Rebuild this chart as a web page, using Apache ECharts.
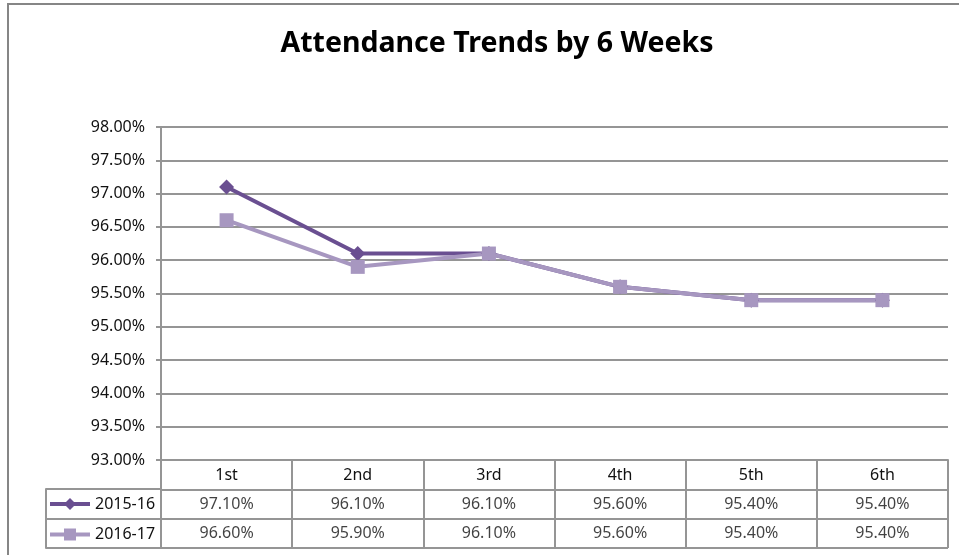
<!DOCTYPE html>
<html>
<head>
<meta charset="utf-8">
<script src="https://cdn.jsdelivr.net/npm/echarts@6/dist/echarts.min.js"></script>
<style>
  html, body { margin: 0; padding: 0; background: #fff; }
  #chart { width: 959px; height: 555px; }
</style>
</head>
<body>
<div id="chart"></div>
<script>
// data
var weeks = ["1st", "2nd", "3rd", "4th", "5th", "6th"];
var seriesNames = ["2015-16", "2016-17"];
var att2015 = [97.1, 96.1, 96.1, 95.6, 95.4, 95.4];
var att2016 = [96.6, 95.9, 96.1, 95.6, 95.4, 95.4];
var yMin = 93, yMax = 98, yStep = 0.5;
var tableRows = ["head", "2015-16", "2016-17"];

var gray = "#959595";
var lw = 2;
var textColor = "#111";
var font = "Noto Sans";
var dark = "#6a4f91";
var light = "#a797c0";

function pct(v) { return v.toFixed(2) + "%"; }

// cells of the data table: [week, row, value]
var cells = [];
weeks.forEach(function (w, i) {
  cells.push([w, seriesNames[0], att2015[i]]);
  cells.push([w, seriesNames[1], att2016[i]]);
});

var chart = echarts.init(document.getElementById("chart"));
chart.setOption({
  animation: false,
  backgroundColor: "#fff",
  title: {
    text: "Attendance Trends by 6 Weeks",
    left: 492,
    top: 24,
    textAlign: "center",
    textStyle: { fontFamily: font, fontSize: 28.5, fontWeight: "bold", color: "#000" }
  },
  graphic: [{
    type: "rect",
    shape: { x: 8, y: 4, width: 1000, height: 600 },
    style: { fill: "none", stroke: "#868686", lineWidth: 2 },
    silent: true
  }],
  legend: {
    data: seriesNames,
    orient: "vertical",
    left: 48,
    top: 496,
    padding: 0,
    itemWidth: 40,
    itemHeight: 15,
    itemGap: 14.5,
    lineStyle: { width: 4 },
    textStyle: { fontFamily: font, fontSize: 16, lineHeight: 15, color: textColor },
    selectedMode: false
  },
  grid: [
    { left: 161, right: 11, top: 127, height: 333 },   // plot
    { left: 161, right: 11, top: 460, height: 88 },    // data table
    { left: 46, width: 115, top: 489, height: 59 }     // legend column of the table
  ],
  xAxis: [
    {
      gridIndex: 0, type: "category", data: weeks, boundaryGap: true,
      axisLine: { lineStyle: { color: gray, width: lw } },
      axisTick: { show: false },
      axisLabel: { show: false }
    },
    {
      gridIndex: 1, type: "category", data: weeks, position: "top",
      axisLine: { show: false },
      axisTick: { show: false },
      axisLabel: { inside: true, margin: 7, color: textColor, fontFamily: font, fontSize: 16 },
      splitLine: { show: true, lineStyle: { color: gray, width: lw } }
    },
    { gridIndex: 2, type: "category", data: [""], show: false }
  ],
  yAxis: [
    {
      gridIndex: 0, type: "value", min: yMin, max: yMax, interval: yStep,
      axisLine: { show: true, lineStyle: { color: gray, width: lw } },
      axisTick: { show: true, length: 5, lineStyle: { color: gray, width: lw } },
      axisLabel: { formatter: pct, margin: 16, color: textColor, fontFamily: font, fontSize: 16 },
      splitLine: { show: true, lineStyle: { color: gray, width: lw } }
    },
    {
      gridIndex: 1, type: "category", data: tableRows, inverse: true,
      axisLine: { show: true, lineStyle: { color: gray, width: lw } },
      axisTick: { show: false },
      axisLabel: { show: false },
      splitLine: { show: true, lineStyle: { color: gray, width: lw } }
    },
    {
      gridIndex: 2, type: "category", data: seriesNames, inverse: true,
      axisLine: { show: true, lineStyle: { color: gray, width: lw } },
      axisTick: { show: false },
      axisLabel: { show: false },
      splitLine: { show: true, lineStyle: { color: gray, width: lw } }
    }
  ],
  series: [
    {
      name: seriesNames[0], type: "line", xAxisIndex: 0, yAxisIndex: 0,
      data: att2015, symbol: "diamond", symbolSize: 15,
      lineStyle: { color: dark, width: 4 },
      itemStyle: { color: dark }
    },
    {
      name: seriesNames[1], type: "line", xAxisIndex: 0, yAxisIndex: 0,
      data: att2016, symbol: "rect", symbolSize: 14,
      lineStyle: { color: light, width: 4 },
      itemStyle: { color: light }
    },
    {
      name: "table", type: "scatter", xAxisIndex: 1, yAxisIndex: 1,
      data: cells, symbolSize: 1, silent: true,
      itemStyle: { color: "rgba(0,0,0,0)" },
      label: {
        show: true, position: "inside",
        formatter: function (p) { return pct(p.value[2]); },
        color: textColor, fontFamily: font, fontSize: 16
      }
    }
  ]
});
</script>
</body>
</html>
